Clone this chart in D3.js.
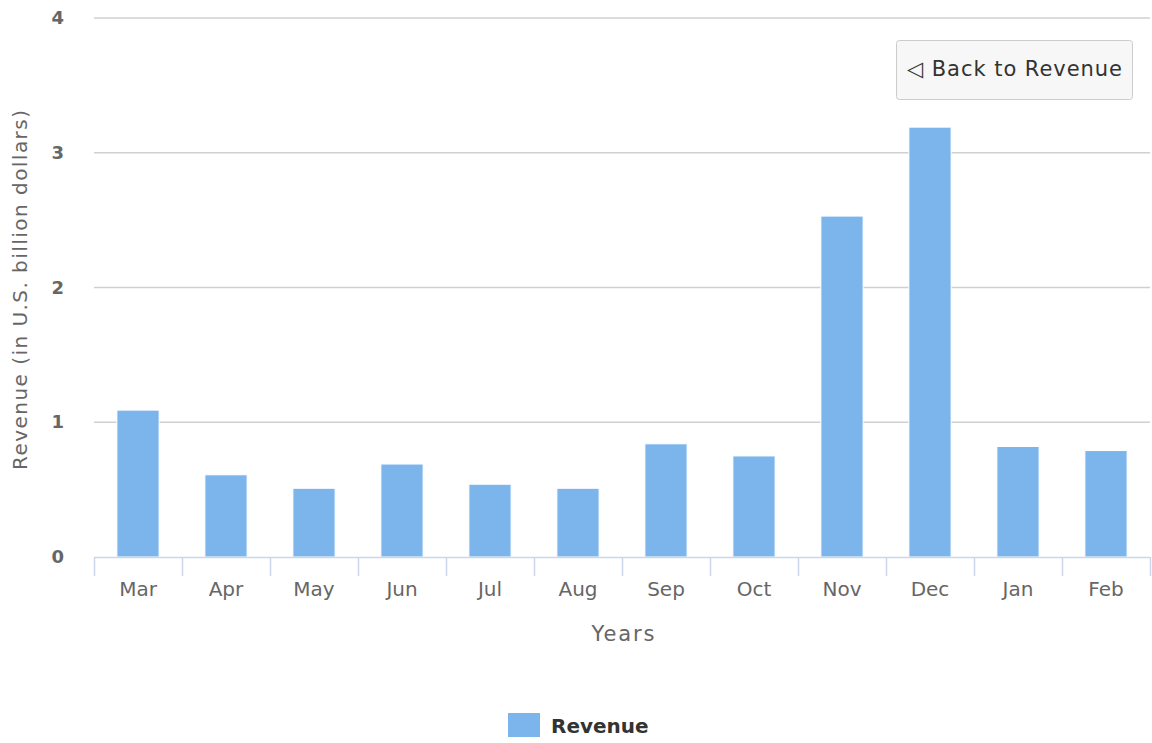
<!DOCTYPE html>
<html>
<head>
<meta charset="utf-8">
<script src="https://cdn.jsdelivr.net/npm/d3@7"></script>
<style>
  body { margin: 0; background: #fff; font-family: "DejaVu Sans", "Open Sans", sans-serif; }
</style>
</head>
<body>
<div id="chart"></div>
<script>
const months = ["Mar", "Apr", "May", "Jun", "Jul", "Aug", "Sep", "Oct", "Nov", "Dec", "Jan", "Feb"];
const revenue = [1.09, 0.61, 0.51, 0.69, 0.54, 0.51, 0.84, 0.75, 2.53, 3.19, 0.82, 0.79];
const yTicks = [0, 1, 2, 3, 4];

const margin = { top: 18, right: 2, bottom: 186, left: 94 },
  width = 1152 - margin.left - margin.right,
  height = 743 - margin.top - margin.bottom;

const svg = d3.select("#chart")
  .append("svg")
  .attr("width", 1152)
  .attr("height", 743);

const g = svg.append("g")
  .attr("transform", `translate(${margin.left}, ${margin.top})`);

const x = d3.scaleBand()
  .domain(months)
  .range([0, width])
  .padding(0);

const y = d3.scaleLinear()
  .domain([0, 4])
  .range([height, 0]);

// gridlines
g.append("g")
  .selectAll("line")
  .data(yTicks.filter(d => d > 0))
  .enter()
  .append("line")
  .attr("x1", 0)
  .attr("x2", width)
  .attr("y1", d => y(d))
  .attr("y2", d => y(d))
  .attr("stroke", "#d0d0d0")
  .attr("stroke-width", 1.5);

// y labels
g.append("g")
  .selectAll("text")
  .data(yTicks)
  .enter()
  .append("text")
  .attr("x", -30)
  .attr("y", d => y(d) + 6)
  .attr("text-anchor", "end")
  .style("font-size", "18px")
  .style("font-weight", "bold")
  .style("fill", "#666")
  .text(d => d);

// bars
const barW = x.bandwidth() * 0.48;
g.selectAll("rect.bar")
  .data(months.map((m, i) => ({ m, v: revenue[i] })))
  .enter()
  .append("rect")
  .attr("class", "bar")
  .attr("x", d => x(d.m) + (x.bandwidth() - barW) / 2)
  .attr("y", d => y(d.v))
  .attr("width", barW)
  .attr("height", d => height - y(d.v))
  .attr("fill", "#7cb5ec")
  .attr("stroke", "#fff")
  .attr("stroke-width", 1);

// x axis
const xAxis = g.append("g")
  .attr("transform", `translate(0, ${height})`);
xAxis.append("line")
  .attr("x1", 0).attr("x2", width)
  .attr("y1", 0.5).attr("y2", 0.5)
  .attr("stroke", "#ccd6eb")
  .attr("stroke-width", 1.5);
xAxis.selectAll("line.tick")
  .data(months.concat(["end"]))
  .enter()
  .append("line")
  .attr("class", "tick")
  .attr("x1", (d, i) => i * x.step() + 0.5)
  .attr("x2", (d, i) => i * x.step() + 0.5)
  .attr("y1", 0)
  .attr("y2", 19)
  .attr("stroke", "#ccd6eb")
  .attr("stroke-width", 1.5);
xAxis.selectAll("text")
  .data(months)
  .enter()
  .append("text")
  .attr("x", d => x(d) + x.bandwidth() / 2)
  .attr("y", 39)
  .attr("text-anchor", "middle")
  .style("font-size", "20px")
  .style("fill", "#666")
  .text(d => d);

// axis titles
svg.append("text")
  .attr("x", 623)
  .attr("y", 641)
  .attr("text-anchor", "middle")
  .attr("textLength", 63)
  .attr("lengthAdjust", "spacing")
  .style("font-size", "21px")
  .style("fill", "#666")
  .text("Years");

svg.append("text")
  .attr("transform", `translate(27, 290) rotate(-90)`)
  .attr("text-anchor", "middle")
  .attr("textLength", 360)
  .attr("lengthAdjust", "spacing")
  .style("font-size", "20px")
  .style("fill", "#666")
  .text("Revenue (in U.S. billion dollars)");

// legend
svg.append("rect")
  .attr("x", 508).attr("y", 713)
  .attr("width", 32).attr("height", 24)
  .attr("fill", "#7cb5ec");
svg.append("text")
  .attr("x", 551).attr("y", 733)
  .style("font-size", "20px")
  .style("font-weight", "bold")
  .style("fill", "#333")
  .text("Revenue");

// drill-up button
svg.append("rect")
  .attr("x", 896.5).attr("y", 40.5)
  .attr("width", 236).attr("height", 59)
  .attr("rx", 3).attr("ry", 3)
  .attr("fill", "#f7f7f7")
  .attr("stroke", "#cccccc")
  .attr("stroke-width", 1);
svg.append("text")
  .attr("x", 907).attr("y", 76)
  .attr("textLength", 215)
  .attr("lengthAdjust", "spacing")
  .style("font-size", "21px")
  .style("fill", "#333")
  .text("◁ Back to Revenue");
</script>
</body>
</html>
